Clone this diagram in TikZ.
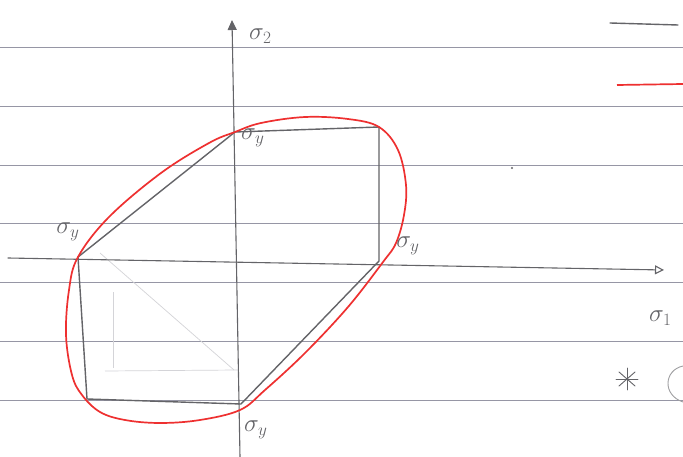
\documentclass[tikz,border=0pt]{standalone}
\usetikzlibrary{arrows.meta,calc}
\definecolor{pencil}{RGB}{100,100,104}
\definecolor{faint}{RGB}{212,212,216}
\definecolor{ruled}{RGB}{150,150,165}
\definecolor{redpen}{RGB}{238,48,48}
\tikzset{
  paperline/.style={ruled, line width=0.8pt},
  pen/.style={pencil, line width=1.4pt, line cap=round},
  faintpen/.style={faint, line width=0.7pt},
  vm/.style={redpen, line width=1.7pt},
  lab/.style={pencil, font=\fontsize{24}{26}\selectfont, inner sep=1pt}
}
\begin{document}
\begin{tikzpicture}[x=1pt,y=-1pt]
\useasboundingbox (0,0) rectangle (683,457);
\fill[white] (0,0) rectangle (683,457);
% ruled paper lines
\foreach \yy in {47,106,165,223,282,341,400}
  \draw[paperline] (0,\yy) -- (683,\yy);
% faint construction marks
\coordinate (f1) at (100,253);
\coordinate (f2) at (234,370);
\coordinate (f3) at (113,292);
\coordinate (f4) at (113,368);
\coordinate (f5) at (105,371);
\coordinate (f6) at (238,370);
\draw[faintpen] (f1) -- (f2);
\draw[faintpen] (f3) -- (f4);
\draw[faintpen] (f5) -- (f6);
% axes
\coordinate (ybot) at (240,457);
\coordinate (ytop) at (232,20);
\coordinate (xl) at (8,258);
\coordinate (xr) at (664,270);
\draw[pen, line width=1.1pt, -{Triangle[length=10pt,width=9pt]}] (ybot) -- (ytop);
\draw[pen, line width=1.1pt, -{Triangle[open,length=9pt,width=9pt]}] (xl) -- (xr);
\node[lab, anchor=west] (s2) at (248,36) {$\sigma_2$};
\node[lab, anchor=west] (s1) at (648,318) {$\sigma_1$};
% Tresca hexagon
\coordinate (A) at (235,132);
\coordinate (B) at (379,127);
\coordinate (C) at (379,261);
\coordinate (D) at (241,404);
\coordinate (E) at (87,399);
\coordinate (F) at (78,257);
\draw[pen] (F) -- (A) -- (B) -- (C) -- (D) -- (E) -- cycle;
% von Mises ellipse (as sketched)
\draw[vm] plot[smooth cycle, tension=0.6] coordinates {
  (235,132) (261,123) (305,117) (348,119) (379,127) (398,150) (406,185)
  (404,215) (396,243) (383,262) (348,307) (305,353) (265,390) (240,410)
  (200,420) (160,423) (125,420) (100,412) (82,395) (72,375) (66,335)
  (69,290) (78,257) (109,217) (161,173) (209,143)};
% labels
\node[lab, anchor=west] (lA) at (240,138) {$\sigma_y$};
\node[lab] (lF) at (68,232) {$\sigma_y$};
\node[lab] (lC) at (408,246) {$\sigma_y$};
\node[lab, anchor=west] (lD) at (243,430) {$\sigma_y$};
% legend
\coordinate (g1) at (610,23);
\coordinate (g2) at (678,25);
\draw[pen] (g1) -- (g2);
\coordinate (r1) at (617,85);
\coordinate (r2) at (683,84);
\draw[vm] (r1) -- (r2);
% asterisk and partial bracket
\coordinate (ast) at (627,379);
\draw[pen, line width=0.9pt] ($(ast)+(0,-11)$) -- ($(ast)+(0,11)$);
\draw[pen, line width=0.9pt] ($(ast)+(-11,0)$) -- ($(ast)+(11,0)$);
\draw[pen, line width=0.9pt] ($(ast)+(-8,-7)$) -- ($(ast)+(8,7)$);
\draw[pen, line width=0.9pt] ($(ast)+(-8,7)$) -- ($(ast)+(8,-7)$);
\coordinate (br) at (683,366);
\draw[faint!75!black, line width=0.9pt] (br) .. controls (664,370) and (662,395) .. (683,402);
% speck
\fill[pencil] (512,168) circle (1.2);
\end{tikzpicture}
\end{document}
